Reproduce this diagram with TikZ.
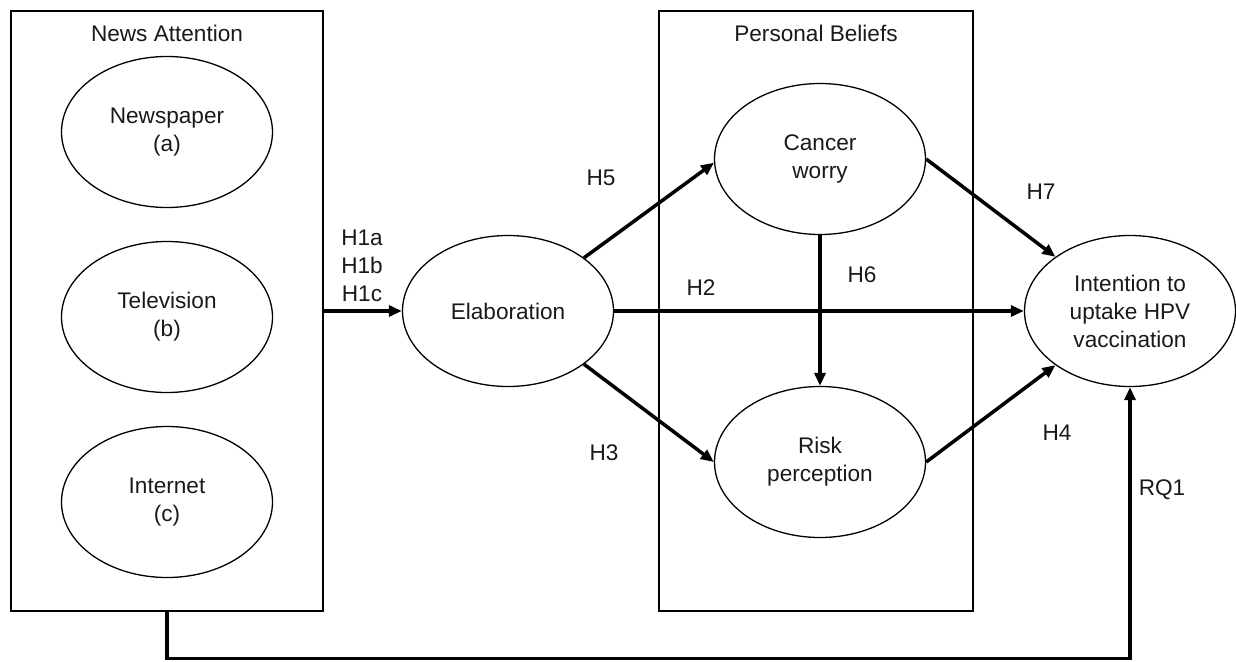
\documentclass[tikz,border=0pt]{standalone}
\usepackage{fontspec}
\setmainfont{Liberation Sans}
\usetikzlibrary{arrows.meta,shapes.geometric}
\begin{document}
\begin{tikzpicture}[x=1pt,y=-1pt,
  every node/.style={font=\fontsize{22.6}{28}\selectfont, text=black!90},
  oval/.style={ellipse, draw, line width=1.3pt, inner sep=0pt, minimum width=211pt, minimum height=151pt, align=center},
  groupbox/.style={draw, line width=1.3pt, inner sep=0pt},
  lbl/.style={inner sep=0pt},
  path/.style={line width=3.5pt, -{Triangle[length=13pt,width=11pt]}}
]
\useasboundingbox (0,0) rectangle (1236,661);
% group boxes
\node[groupbox, minimum width=312pt, minimum height=600pt] (newsbox) at (167,311) {};
\node[groupbox, minimum width=314pt, minimum height=600pt] (beliefbox) at (816,311) {};
\node[lbl] (newstitle) at (167,33) {News Attention};
\node[lbl] (belieftitle) at (816,33) {Personal Beliefs};
% ellipses
\node[oval] (np) at (167,132) {Newspaper\\(a)};
\node[oval] (tv) at (167,317) {Television\\(b)};
\node[oval] (net) at (167,502) {Internet\\(c)};
\node[oval] (elab) at (508,311) {Elaboration};
\node[oval] (cw) at (820,159) {Cancer\\worry};
\node[oval] (rp) at (820,462) {Risk\\perception};
\node[oval] (intent) at (1130,311) {Intention to\\uptake HPV\\vaccination};
% connectors
\draw[path] (newsbox.east) -- (elab.west);
\draw[path] (elab.35) -- (cw.182);
\draw[path] (elab.-35) -- (rp.west);
\draw[path] (elab.east) -- (intent.west);
\draw[path] (cw.south) -- (rp.north);
\draw[path] (cw.east) -- (intent.144);
\draw[path] (rp.east) -- (intent.216);
\draw[path] (newsbox.south) -- ++(0,47) -| (intent.south);
% labels
\node[lbl, align=center] (h1) at (362,266) {H1a\\H1b\\H1c};
\node[lbl] (h5) at (601,178) {H5};
\node[lbl] (h3) at (604,453) {H3};
\node[lbl] (h2) at (701,288) {H2};
\node[lbl] (h6) at (862,275) {H6};
\node[lbl] (h7) at (1041,192) {H7};
\node[lbl] (h4) at (1057,433) {H4};
\node[lbl] (rq1) at (1162,490) {RQ1};
\end{tikzpicture}
\end{document}
